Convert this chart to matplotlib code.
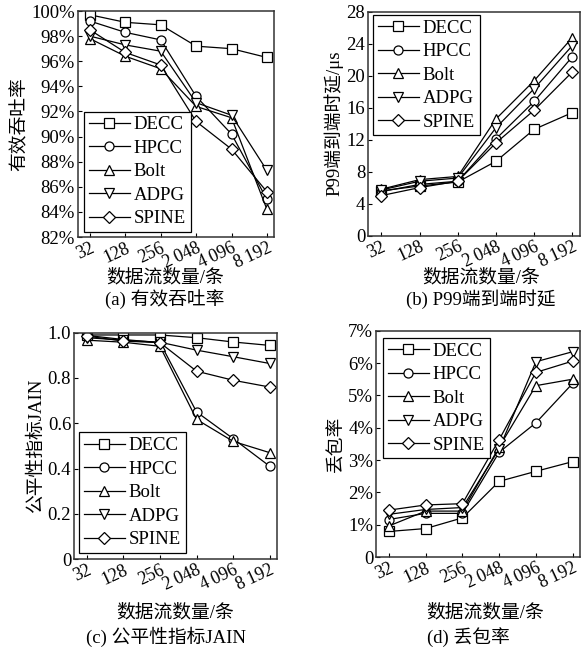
import matplotlib
matplotlib.use("Agg")
import matplotlib.pyplot as plt

plt.rcParams['font.family'] = ['Liberation Serif', 'Noto Sans CJK SC', 'DejaVu Sans']

x_labels = ['32', '128', '256', '2\u2009048', '4\u2009096', '8\u2009192']
methods = ['DECC', 'HPCC', 'Bolt', 'ADPG', 'SPINE']
markers = ['s', 'o', '^', 'v', 'D']

# (a) effective throughput, %
thr_decc = [99.7, 99.1, 98.9, 97.2, 97.0, 96.3]
thr_hpcc = [99.2, 98.3, 97.7, 93.2, 90.2, 85.0]
thr_bolt = [97.8, 96.4, 95.4, 92.4, 91.5, 84.2]
thr_adpg = [98.0, 97.3, 96.8, 92.7, 91.7, 87.3]
thr_spine = [98.5, 96.7, 95.7, 91.2, 89.0, 85.6]

# (b) P99 latency, us
lat_decc = [5.6, 6.2, 6.7, 9.3, 13.3, 15.4]
lat_hpcc = [5.5, 6.4, 6.8, 12.1, 16.8, 22.4]
lat_bolt = [5.8, 7.0, 7.4, 14.6, 19.4, 24.8]
lat_adpg = [5.7, 6.8, 7.2, 13.5, 18.4, 23.8]
lat_spine = [5.0, 6.0, 6.8, 11.6, 15.7, 20.5]

# (c) Jain fairness
jain_decc = [0.99, 0.99, 0.99, 0.978, 0.959, 0.944]
jain_hpcc = [0.988, 0.97, 0.956, 0.65, 0.532, 0.41]
jain_bolt = [0.967, 0.958, 0.94, 0.617, 0.52, 0.47]
jain_adpg = [0.978, 0.967, 0.958, 0.923, 0.894, 0.864]
jain_spine = [0.985, 0.963, 0.956, 0.83, 0.79, 0.76]

# (d) packet loss, %
loss_decc = [0.79, 0.88, 1.21, 2.34, 2.65, 2.95]
loss_hpcc = [1.16, 1.35, 1.35, 3.24, 4.15, 5.37]
loss_bolt = [0.96, 1.42, 1.42, 3.40, 5.30, 5.50]
loss_adpg = [1.32, 1.47, 1.53, 3.34, 6.04, 6.35]
loss_spine = [1.45, 1.61, 1.65, 3.63, 5.71, 6.06]

fig = plt.figure(figsize=(5.81, 6.52), dpi=100)

panels = [
    dict(rect=[0.1334, 0.6365, 0.3382, 0.3466],
         data=[thr_decc, thr_hpcc, thr_bolt, thr_adpg, thr_spine],
         ylim=(82, 100), yticks=list(range(82, 101, 2)),
         yticklabels=[f'{v}%' for v in range(82, 101, 2)],
         ylabel='有效吞吐率', legend=('lower left', (0.033, 0.022)),
         xlab=(165, 278), cap=(165, 299), caption='(a) 有效吞吐率'),
    dict(rect=[0.6334, 0.6388, 0.3649, 0.3428],
         data=[lat_decc, lat_hpcc, lat_bolt, lat_adpg, lat_spine],
         ylim=(0, 28), yticks=list(range(0, 29, 4)),
         yticklabels=[str(v) for v in range(0, 29, 4)],
         ylabel='P99端到端时延/μs', legend=('upper left', (0.024, 0.987)),
         xlab=(481, 278), cap=(481, 299), caption='(b) P99端到端时延'),
    dict(rect=[0.1274, 0.1426, 0.3494, 0.3471],
         data=[jain_decc, jain_hpcc, jain_bolt, jain_adpg, jain_spine],
         ylim=(0, 1.0), yticks=[0, 0.2, 0.4, 0.6, 0.8, 1.0],
         yticklabels=['0', '0.2', '0.4', '0.6', '0.8', '1.0'],
         ylabel='公平性指标JAIN', legend=('lower left', (0.025, 0.027)),
         xlab=(175, 613), cap=(166, 637), caption='(c) 公平性指标JAIN'),
    dict(rect=[0.6472, 0.1457, 0.3511, 0.3471],
         data=[loss_decc, loss_hpcc, loss_bolt, loss_adpg, loss_spine],
         ylim=(0, 7), yticks=list(range(0, 8)),
         yticklabels=['0'] + [f'{v}%' for v in range(1, 8)],
         ylabel='丢包率', legend=('upper left', (0.034, 0.968)),
         xlab=(485, 613), cap=(468, 637), caption='(d) 丢包率'),
]

W, H = 581, 652
for p in panels:
    ax = fig.add_axes(p['rect'])
    xs = list(range(len(x_labels)))
    for vals, name, mk in zip(p['data'], methods, markers):
        ms = 6.0 if mk == 'D' else 6.5
        ax.plot(xs, vals, color='black', lw=0.9, marker=mk, markersize=ms,
                markerfacecolor='white', markeredgecolor='black',
                markeredgewidth=0.9, label=name)
    ax.set_xlim(-0.35, 5.2)
    ax.set_ylim(*p['ylim'])
    ax.set_xticks(xs)
    ax.set_xticklabels(x_labels, rotation=25, ha='right', va='top',
                       rotation_mode='anchor', fontsize=13)
    ax.set_yticks(p['yticks'])
    ax.set_yticklabels(p['yticklabels'], fontsize=13.5)
    ax.tick_params(direction='in', length=3, width=0.8, pad=2, top=False, right=False)
    ax.tick_params(axis='x', pad=2)
    for s in ax.spines.values():
        s.set_linewidth(1.1)
        s.set_color('#333333')
    ax.set_ylabel(p['ylabel'], fontsize=13.5, labelpad=2)
    loc, anchor = p['legend']
    leg = ax.legend(loc=loc, bbox_to_anchor=anchor, fontsize=13.5,
                    frameon=True, fancybox=False, edgecolor='black',
                    framealpha=1, borderaxespad=0, handlelength=2.2,
                    handletextpad=0.2, labelspacing=0.34, borderpad=0.25)
    leg.get_frame().set_linewidth(0.9)
    fig.text(p['xlab'][0] / W, 1 - p['xlab'][1] / H, '数据流数量/条',
             ha='center', va='center', fontsize=13.5)
    fig.text(p['cap'][0] / W, 1 - p['cap'][1] / H, p['caption'],
             ha='center', va='center', fontsize=13.5)

fig.savefig('out.png', dpi=100)
